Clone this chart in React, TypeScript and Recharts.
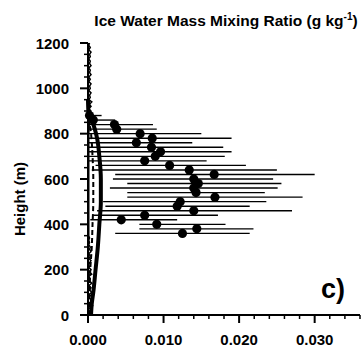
import React from 'react'
import { ComposedChart, Scatter, XAxis, YAxis } from 'recharts'

// heights (m) of the observed layers, with value and spread of each layer
const pointHeights = [880, 860, 840, 820, 800, 780, 760, 740, 720, 700, 680, 660, 640, 620, 600, 580, 560, 540, 520, 500, 480, 460, 440, 420, 400, 380, 360]
const pointValues = [0.0002, 0.0007, 0.0035, 0.0038, 0.0069, 0.0085, 0.0064, 0.0084, 0.0096, 0.0089, 0.0075, 0.0108, 0.0134, 0.0167, 0.014, 0.0146, 0.014, 0.0143, 0.0168, 0.0122, 0.0118, 0.014, 0.0075, 0.0044, 0.0091, 0.0144, 0.0125]
const barLow = [0, 0, 0, 0, 0, 0, 0, 0, 0, 0, 0, 0.001, 0.0005, 0.0036, 0.0033, 0.0052, 0.0029, 0.0052, 0.0052, 0.002, 0.0023, 0.0012, 0.0007, 0.0003, 0.0068, 0.0068, 0.0036]
const barHigh = [0.0018, 0.0036, 0.0086, 0.0091, 0.015, 0.019, 0.0138, 0.0179, 0.019, 0.0181, 0.0157, 0.0209, 0.025, 0.03, 0.0245, 0.0256, 0.0251, 0.0234, 0.0284, 0.0236, 0.0214, 0.027, 0.0172, 0.0118, 0.0182, 0.0219, 0.0214]

// model profiles
const thickHeights = [0, 50, 100, 200, 300, 400, 500, 550, 600, 700, 780, 820, 850, 880, 900, 950]
const thickValues = [0.0004, 0.0005, 0.0007, 0.001, 0.0013, 0.0015, 0.0017, 0.0017, 0.0017, 0.0015, 0.0012, 0.0009, 0.0006, 0.0002, 0.00005, 0]
const dashedHeights = [0, 100, 200, 300, 400, 500, 600, 700, 800, 870, 900]
const dashedValues = [0.0001, 0.0002, 0.0003, 0.0005, 0.0006, 0.0007, 0.0007, 0.0006, 0.0004, 0.0001, 0]

// noisy near-zero profile
const thinHeights = [
  0, 10, 20, 30, 40, 50, 60, 70, 80, 90, 100, 110, 120, 130, 140, 150, 160, 170, 180, 190,
  200, 210, 220, 230, 240, 250, 260, 270, 280, 290, 300, 310, 320, 330, 340, 350,
  400, 500, 600, 700, 800, 860,
  880, 890, 900, 910, 920, 930, 940, 950, 960, 970, 980, 990, 1000, 1010, 1020, 1030, 1040,
  1050, 1060, 1070, 1080, 1090, 1100, 1110, 1120, 1130, 1140, 1150, 1160, 1170, 1180, 1190, 1200,
]
const thinValues = [
  0.0004, 0.0001, 0.0005, 0.0002, 0.0006, 0.0001, 0.0004, 0.0003, 0.0006, 0.0001, 0.0005, 0.0002, 0.0004, 0.0001, 0.0005, 0.0002, 0.0003, 0.0001, 0.0005, 0.0002,
  0.0004, 0.0001, 0.0003, 0.0002, 0.0004, 0.0001, 0.0003, 0.0001, 0.0004, 0.0002, 0.0003, 0.0001, 0.0002, 0.0001, 0.0002, 0.0001,
  0.0001, 0.0001, 0.0001, 0.0001, 0.0001, 0.0002,
  0.0005, 0.0002, 0.0004, 0.0001, 0.0004, 0.0002, 0.0005, 0.0001, 0.0003, 0.0002, 0.0004, 0.0001, 0.0003, 0.0002, 0.0004, 0.0001, 0.0003,
  0.0001, 0.0004, 0.0002, 0.0003, 0.0001, 0.0004, 0.0002, 0.0003, 0.0001, 0.0003, 0.0002, 0.0004, 0.0001, 0.0003, 0.0001, 0.0002,
]

const xTicks = [0, 0.002, 0.004, 0.006, 0.008, 0.01, 0.012, 0.014, 0.016, 0.018, 0.02, 0.022, 0.024, 0.026, 0.028, 0.03, 0.032, 0.034, 0.036]
const yTicks = [0, 50, 100, 150, 200, 250, 300, 350, 400, 450, 500, 550, 600, 650, 700, 750, 800, 850, 900, 950, 1000, 1050, 1100, 1150, 1200]

const FONT = "'Liberation Sans', Arial, Helvetica, sans-serif"

const toPts = (hs: number[], vs: number[]) => hs.map((h, i) => ({ x: vs[i], y: h }))

const isMajor = (v: number, step: number) => Math.abs(v / step - Math.round(v / step)) < 1e-6

function BottomTick({ x, y, payload }: any) {
  const v = payload.value
  const major = isMajor(v, 0.01)
  return (
    <g>
      <line x1={x} x2={x} y1={y} y2={y + (major ? 8 : 4)} stroke="#000" strokeWidth={major ? 2 : 1.5} />
      {major && (
        <text x={x} y={y + 30} textAnchor="middle" fontFamily={FONT} fontWeight="bold" fontSize={15} fill="#000">
          {v.toFixed(3)}
        </text>
      )}
    </g>
  )
}

function TopTick({ x, y, payload }: any) {
  const major = isMajor(payload.value, 0.01)
  return <line x1={x} x2={x} y1={y} y2={y - (major ? 9 : 4)} stroke="#000" strokeWidth={major ? 2 : 1.5} />
}

function LeftTick({ x, y, payload }: any) {
  const v = payload.value
  const major = isMajor(v, 200)
  return (
    <g>
      <line x1={x} x2={x - (major ? 8 : 4)} y1={y} y2={y} stroke="#000" strokeWidth={major ? 2 : 1.5} />
      {major && (
        <text x={x - 19} y={y + 5.5} textAnchor="end" fontFamily={FONT} fontWeight="bold" fontSize={15} fill="#000">
          {v}
        </text>
      )}
    </g>
  )
}

const noShape = () => <g />

export default function App() {
  const points = toPts(pointHeights, pointValues)
  return (
    <div style={{ position: 'absolute', left: 0, top: 0, width: 361, height: 354, background: '#fff' }}>
      <ComposedChart width={361} height={354} margin={{ top: 43, right: 1, bottom: 0, left: 0 }}>
        <XAxis
          dataKey="x" type="number" domain={[0, 0.036]} ticks={xTicks} interval={0}
          height={39} tickSize={0} tickMargin={0} tick={<BottomTick />}
          axisLine={{ stroke: '#000', strokeWidth: 2 }} tickLine={false}
        />
        <XAxis
          xAxisId="top" orientation="top" type="number" domain={[0, 0.036]} ticks={xTicks} interval={0}
          height={0} tickSize={0} tickMargin={0} tick={<TopTick />}
          axisLine={{ stroke: '#000', strokeWidth: 2 }} tickLine={false}
        />
        <YAxis
          dataKey="y" type="number" domain={[0, 1200]} ticks={yTicks} interval={0}
          width={88} tickSize={0} tickMargin={0} tick={<LeftTick />}
          axisLine={{ stroke: '#000', strokeWidth: 2 }} tickLine={false}
        />
        <YAxis
          yAxisId="right" orientation="right" type="number" domain={[0, 1200]}
          width={0} tick={false} tickLine={false}
          axisLine={{ stroke: '#000', strokeWidth: 2 }}
        />
        {pointHeights.map((h, i) => (
          <Scatter
            key={'bar' + h}
            data={[{ x: barLow[i], y: h }, { x: barHigh[i], y: h }]}
            shape={noShape}
            line={{ stroke: '#000', strokeWidth: 1.4 }}
            isAnimationActive={false}
          />
        ))}
        <Scatter
          data={toPts(thinHeights, thinValues)}
          shape={noShape}
          line={{ stroke: '#000', strokeWidth: 1.5 }}
          isAnimationActive={false}
        />
        <Scatter
          data={toPts(dashedHeights, dashedValues)}
          shape={noShape}
          line={{ stroke: '#000', strokeWidth: 2, strokeDasharray: '5 3' }}
          lineJointType="monotoneY"
          isAnimationActive={false}
        />
        <Scatter
          data={toPts(thickHeights, thickValues)}
          shape={noShape}
          line={{ stroke: '#000', strokeWidth: 4 }}
          lineJointType="monotoneY"
          isAnimationActive={false}
        />
        <Scatter
          data={points}
          shape={(p: any) => <circle cx={p.cx} cy={p.cy} r={4.6} fill="#000" />}
          isAnimationActive={false}
        />
      </ComposedChart>
      <svg width={361} height={354} style={{ position: 'absolute', left: 0, top: 0, pointerEvents: 'none' }}>
        <text x={226} y={26} textAnchor="middle" fontFamily={FONT} fontWeight="bold" fontSize={15.5} fill="#000">
          Ice Water Mass Mixing Ratio (g kg<tspan dy={-6} fontSize={10}>-1</tspan><tspan dy={6}>)</tspan>
        </text>
        <text
          x={0} y={0} transform="translate(25,199) rotate(-90)" textAnchor="middle"
          fontFamily={FONT} fontWeight="bold" fontSize={15} fill="#000"
        >
          Height (m)
        </text>
        <text x={345} y={298} textAnchor="end" fontFamily={FONT} fontWeight="bold" fontSize={27} fill="#000">
          c)
        </text>
      </svg>
    </div>
  )
}
